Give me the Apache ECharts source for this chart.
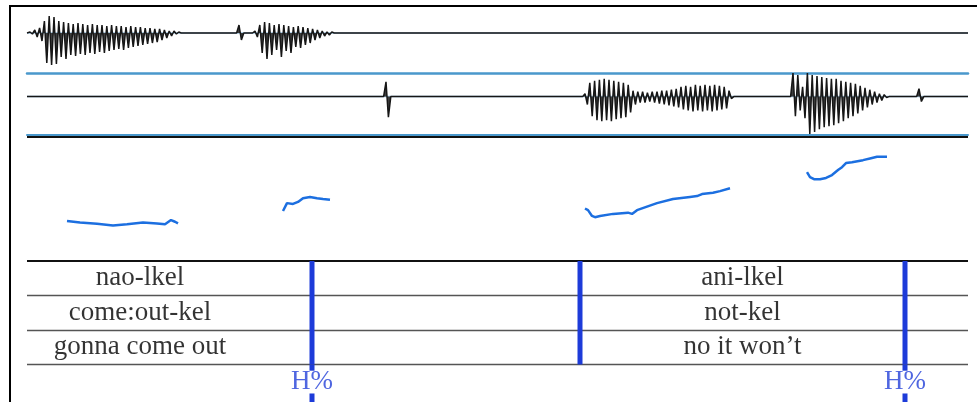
<!DOCTYPE html>
<html><head><meta charset="utf-8">
<script src="https://cdn.jsdelivr.net/npm/echarts/dist/echarts.min.js"></script>
<style>html,body{margin:0;padding:0;background:#fff}#c{width:977px;height:402px}</style>
</head><body><div id="c"></div>
<script>
// ---------- data (time in seconds) ----------
const DURATION = 2.3525;
const SAMPLE_STEP = 0.006;            // spacing of waveform peaks

// channel 1 (top waveform): segment start times and alternating peak amplitudes
const ch1Starts = [0.0075, 0.524, 0.564];
const ch1SegA = [1,-1,3,-4,5,-8,12,-30,17,-32,16,-31,12,-24,11,-26,10,-22,9,-23,10,-21,9,-22,8,-20,9,-21,8,-19,8,-20,7,-18,8,-17,7,-16,7,-17,6,-15,7,-14,6,-13,6,-12,5,-11,5,-10,4,-9,4,-7,3,-5,2,-3,2,-1,1,0];
const ch1Click = [0,8,-7,0];
const ch1SegB = [0,2,-4,8,-20,11,-26,10,-22,8,-17,9,-24,8,-18,7,-20,6,-14,7,-15,6,-12,5,-10,4,-7,3,-5,2,-3,1,-2,1,0];

// channel 2 (second waveform)
const ch2Starts = [0.8915, 1.389, 1.909, 2.224];
const ch2Click1 = [0,15,-21,0];
const ch2SegC = [0,3,-8,14,-20,16,-24,17,-25,18,-24,17,-25,16,-23,15,-22,14,-21,12,-16,6,-8,5,-6,5,-6,4,-5,5,-6,5,-7,6,-8,6,-9,7,-10,8,-11,10,-13,11,-14,10,-15,12,-14,11,-15,12,-14,11,-15,12,-14,11,-13,10,-12,6,-2,0];
const ch2SegD = [0,24,-20,22,-14,10,-22,24,-38,22,-36,21,-33,20,-31,19,-30,18,-29,18,-27,16,-25,15,-22,14,-20,13,-17,11,-14,9,-11,7,-8,5,-6,3,-4,2,-1,0];
const ch2Click2 = [0,8,-5,0];

// pitch track (Hz)
const pitch1T  = [0.1,0.1325,0.175,0.215,0.25,0.29,0.325,0.345,0.36,0.37,0.3775];
const pitch1Hz = [197,193,190,186,189,193,191,189,199,195,191];
const pitch2T  = [0.64,0.65,0.665,0.6775,0.69,0.7075,0.725,0.74,0.7575];
const pitch2Hz = [221,240,238,243,252,255,252,250,248];
const pitch3T  = [1.395,1.4025,1.4125,1.42,1.4325,1.465,1.5025,1.5125,1.525,1.575,1.615,1.6575,1.675,1.6875,1.715,1.7325,1.7575];
const pitch3Hz = [227,223,209,206,209,214,217,214,223,240,250,255,257,262,265,269,276];
const pitch4T  = [1.95,1.9575,1.9675,1.9825,1.9975,2.0125,2.0275,2.0375,2.0475,2.0625,2.09,2.1075,2.125,2.15];
const pitch4Hz = [315,303,298,298,301,308,320,327,337,339,344,348,352,352];

// annotation tiers
const tier1Labels = ['nao-lkel', 'ani-lkel'];
const tier2Labels = ['come:out-kel', 'not-kel'];
const tier3Labels = ['gonna come out', 'no it won\u2019t'];
const labelTimes  = [0.2825, 1.789];
const boundaryTimes = [0.7125, 1.3825, 2.195];
const toneTimes  = [0.7125, 2.195];
const toneLabels = ['H%', 'H%'];

// ---------- build ----------
function buildWave(starts, segs) {
  const pts = [[0, 0]];
  segs.forEach((vals, k) => vals.forEach((v, i) => pts.push([+(starts[k] + i * SAMPLE_STEP).toFixed(4), v])));
  pts.push([DURATION, 0]);
  return pts;
}
function buildPitch(pairs) {
  const out = [];
  pairs.forEach(([T, H], k) => {
    if (k) out.push([T[0] - 0.001, null]);
    T.forEach((t, i) => out.push([t, H[i]]));
  });
  return out;
}
const wave1 = buildWave(ch1Starts, [ch1SegA, ch1Click, ch1SegB]);
const wave2 = buildWave(ch2Starts, [ch2Click1, ch2SegC, ch2SegD, ch2Click2]);
const pitch = buildPitch([[pitch1T,pitch1Hz],[pitch2T,pitch2Hz],[pitch3T,pitch3Hz],[pitch4T,pitch4Hz]]);

const SERIF = "'Liberation Serif','Times New Roman',serif";
const BLUE_RULE = '#4a98cc';
const BOUND = '#1d3bd9';

const hiddenX = (g) => ({type:'value', gridIndex:g, min:0, max:DURATION, show:false});
const ruleX = (g, color, w) => ({type:'value', gridIndex:g, min:0, max:DURATION, position:'bottom',
  axisLine:{show:true, onZero:false, lineStyle:{color, width:w}}, axisTick:{show:false},
  axisLabel:{show:false}, splitLine:{show:false}});

const boundaryData = [];
boundaryTimes.forEach(t => boundaryData.push([t, 0, 3]));
toneTimes.forEach(t => { boundaryData.push([t, 3, 3.18]); boundaryData.push([t, 3.84, 4.2]); });

const labelData = [];
[tier1Labels, tier2Labels, tier3Labels].forEach((row, r) =>
  row.forEach((txt, i) => labelData.push({name: txt, value: [labelTimes[i], r + 0.5]})));
const toneData = toneTimes.map((t, i) => ({name: toneLabels[i], value: [t, 3.5]}));

const waveStyle = {symbol:'none', z:3, silent:true,
  lineStyle:{color:'#161616', width:1.5}, areaStyle:{color:'#3c3c3c', opacity:1, origin:0}};

const chart = echarts.init(document.getElementById('c'), null, {renderer:'canvas'});
chart.setOption({
  animation: false,
  backgroundColor: '#fff',
  grid: [
    {left:10, top:6, width:1000, height:450, show:true, borderColor:'#000', borderWidth:2, backgroundColor:'transparent', outerBoundsMode:'none'},
    {left:27, top:6,   width:941, height:67,  outerBoundsMode:'none'},
    {left:27, top:73,  width:941, height:62,  outerBoundsMode:'none'},
    {left:27, top:137, width:941, height:124, outerBoundsMode:'none'},
    {left:27, top:261, width:941, height:141, outerBoundsMode:'none'}
  ],
  xAxis: [hiddenX(0), ruleX(1, BLUE_RULE, 2.5), ruleX(2, BLUE_RULE, 2), hiddenX(3), hiddenX(4)],
  yAxis: [
    {type:'value', gridIndex:0, show:false},
    {type:'value', gridIndex:1, min:-40, max:27, show:false},
    {type:'value', gridIndex:2, min:-39, max:24, show:false},
    {type:'value', gridIndex:3, min:100, max:400, show:false},
    {type:'value', gridIndex:4, min:0, max:4.087, inverse:true, show:false}
  ],
  series: [
    {type:'line', xAxisIndex:1, yAxisIndex:1, data:[[0,0],[DURATION,0]], symbol:'none', z:1,
     lineStyle:{color:'#9cc4e2', width:1.5}, silent:true},
    Object.assign({type:'line', xAxisIndex:1, yAxisIndex:1, data:wave1}, waveStyle),
    {type:'line', xAxisIndex:2, yAxisIndex:2, data:[[0,0],[DURATION,0]], symbol:'none', z:1,
     lineStyle:{color:'#9cc4e2', width:1.5}, silent:true},
    Object.assign({type:'line', xAxisIndex:2, yAxisIndex:2, data:wave2}, waveStyle),
    {type:'line', xAxisIndex:3, yAxisIndex:3, data:pitch, symbol:'none', connectNulls:false, z:3,
     lineStyle:{color:'#1c6fe0', width:2.5}, silent:true,
     markLine:{silent:true, symbol:'none', label:{show:false},
       data:[{yAxis:400}], lineStyle:{color:'#111', width:2, type:'solid'}}},
    {type:'scatter', xAxisIndex:4, yAxisIndex:4, data:labelData, symbolSize:1, itemStyle:{color:'transparent'}, z:4,
     label:{show:true, position:'inside', formatter:'{b}', color:'#000', fontFamily:SERIF, fontSize:27},
     markLine:{silent:true, symbol:'none', label:{show:false}, lineStyle:{color:'#555', width:1.3, type:'solid'},
       data:[{yAxis:0, lineStyle:{color:'#111', width:2}}, {yAxis:1}, {yAxis:2}, {yAxis:3}]}},
    {type:'custom', xAxisIndex:4, yAxisIndex:4, data:boundaryData, z:5, silent:true,
     renderItem:(params, api) => {
       const p0 = api.coord([api.value(0), api.value(1)]);
       const p1 = api.coord([api.value(0), api.value(2)]);
       return {type:'line', shape:{x1:p0[0], y1:p0[1], x2:p1[0], y2:p1[1]}, style:{stroke:BOUND, lineWidth:5}};
     }},
    {type:'scatter', xAxisIndex:4, yAxisIndex:4, data:toneData, symbolSize:1, itemStyle:{color:'transparent'}, z:6,
     label:{show:true, position:'inside', formatter:'{b}', color:'#2340d8', fontFamily:SERIF, fontSize:27}}
  ]
});
</script></body></html>
